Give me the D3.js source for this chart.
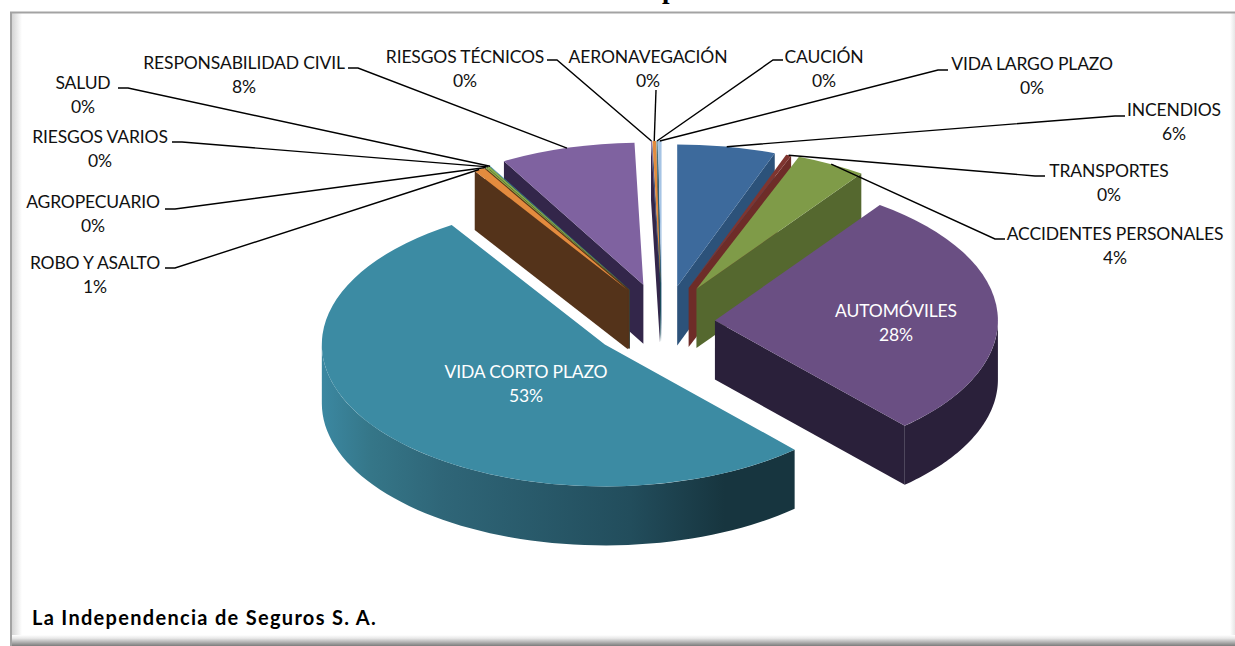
<!DOCTYPE html>
<html>
<head>
<meta charset="utf-8">
<script src="https://cdn.jsdelivr.net/npm/d3@7"></script>
<style>
  html, body { margin: 0; padding: 0; background: #fff; overflow: hidden; }
  text { font-family: Lato, "Open Sans", sans-serif; }
</style>
</head>
<body>
<div id="chart"></div>
<script>
// Data (percent of the total)
var categories = ["INCENDIOS", "TRANSPORTES", "ACCIDENTES PERSONALES", "AUTOMÓVILES", "VIDA CORTO PLAZO",
  "ROBO Y ASALTO", "AGROPECUARIO", "RIESGOS VARIOS", "SALUD", "RESPONSABILIDAD CIVIL",
  "RIESGOS TÉCNICOS", "AERONAVEGACIÓN", "CAUCIÓN", "VIDA LARGO PLAZO"];
var values = [5.6, 0.3, 4, 28.4, 52.6, 0.6, 0.1, 0.15, 0.05, 7.7, 0.05, 0.2, 0.05, 0.2];
var percentLabels = ["6%", "0%", "4%", "28%", "53%", "1%", "0%", "0%", "0%", "8%", "0%", "0%", "0%", "0%"];

var footer = "La Independencia de Seguros S. A.";

// Per slice styling and layout
var topColors = ["#3D6A9C", "#7F3530", "#7F9B48", "#6A4F83", "#3C8BA3", "#E38B3E", "#8AB04A", "#8AB04A",
  "#3C8BA3", "#7F62A0", "#7F62A0", "#E38B3E", "#1C4E5C", "#A6C4E4"];
var sideColors = ["#2C527A", "#6E2C28", "#55682F", "#2A203A", "#17353F", "#54331A", "#54331A", "#54331A",
  "#1C4E5C", "#33264A", "#33264A", "#1C4E5C", "#1C4E5C", "#5F7F9F"];
var explode = [64, 64, 66, 53, 72, 65, 65, 65, 65, 69, 70, 70, 70, 70];
// small extra shift of the exploded slices
var nudgeX = [4, 4, 3, 0, 0, 0, 0, 0, 0, 0, 0, 0, 0, 0];
var nudgeY = [0, 0, 0, 4, 4.5, 0, 0, 0, 0, 0, 0, 0, 0, 0];

// label position: x centre, first baseline, leader start side, y of the stub
var labelX = [1174, 1109, 1115, 896, 526, 95, 93, 100, 83, 244, 465, 648, 824, 1032];
var labelY = [116, 177, 240, 317, 378, 269, 208, 143, 89, 69, 63, 63, 63, 70];
var leaderFrom = [[1125, 116], [1045, 176], [1005, 239], null, null, [165, 268], [165, 209], [172, 142],
  [118, 88], [348, 68], [547, 60], [656, 90], [783, 60], [948, 70]];
var stubDir = [-1, -1, -1, 0, 0, 1, 1, 1, 1, 1, 1, 0, -1, -1];

var svgWidth = 1235;
var svgHeight = 646;
var center = { x: 662, y: 318 };
var rx = 283;
var ry = 142;
var depth = 59;
var fontSize = 17.5;

var svg = d3.select("#chart")
  .append("svg")
  .attr("width", svgWidth)
  .attr("height", svgHeight)
  .style("display", "block");

var defs = svg.append("defs");

function addGradient(id, x1, y1, x2, y2, stops) {
  var g = defs.append("linearGradient")
    .attr("id", id)
    .attr("gradientUnits", "userSpaceOnUse")
    .attr("x1", x1).attr("y1", y1).attr("x2", x2).attr("y2", y2);
  stops.forEach(function(s) {
    g.append("stop").attr("offset", s[0]).attr("stop-color", s[1]);
  });
}

addGradient("wallTeal", 324, 0, 795, 0, [[0, "#3B87A0"], [0.1, "#357688"], [0.25, "#2F6678"], [0.65, "#224D5C"], [0.85, "#17353F"], [1, "#17353F"]]);
addGradient("leftShade", 12, 0, 22, 0, [[0, "#D4D4D4"], [1, "#FFFFFF"]]);
addGradient("bottomShade", 0, 635, 0, 646, [[0, "#FFFFFF"], [0.3, "#E8E8E8"], [1, "#7C7C7C"]]);
addGradient("rightShade", 1230, 0, 1235, 0, [[0, "#FFFFFF"], [1, "#E6E6E6"]]);

// Frame
svg.append("rect").attr("x", 12).attr("y", 13).attr("width", 10).attr("height", 625).attr("fill", "url(#leftShade)");
svg.append("rect").attr("x", 1230).attr("y", 13).attr("width", 5).attr("height", 625).attr("fill", "url(#rightShade)");
svg.append("rect").attr("x", 10).attr("y", 635).attr("width", 1225).attr("height", 11).attr("fill", "url(#bottomShade)");
svg.append("path")
  .attr("d", "M11,646V12.5H1235")
  .attr("fill", "none")
  .attr("stroke", "#A3A3A3")
  .attr("stroke-width", 2);

// What is left of the title above the crop
svg.append("text")
  .attr("x", 662)
  .attr("y", -2)
  .style("font-family", "'Liberation Serif', serif")
  .style("font-weight", "bold")
  .style("font-size", "27px")
  .text("p");

// Pie layout, clockwise from 12 o'clock
var pie = d3.pie().sort(null).value(function(d) { return d; });
var arcs = pie(values);

var topArc = d3.arc().innerRadius(0).outerRadius(rx);

var slices = arcs.map(function(a, i) {
  var mid = (a.startAngle + a.endAngle) / 2;
  return {
    i: i,
    start: a.startAngle,
    end: a.endAngle,
    mid: mid,
    arc: a,
    x: center.x + explode[i] * Math.sin(mid) + nudgeX[i],
    y: center.y - explode[i] * 0.5 * Math.cos(mid) + nudgeY[i]
  };
});

function rim(s, angle, drop) {
  return [s.x + rx * Math.sin(angle), s.y - ry * Math.cos(angle) + (drop || 0)];
}

var line = d3.line();

// Walls of a slice which face the viewer
function drawSides(g, s) {
  var fill = s.i === 4 ? "url(#wallTeal)" : sideColors[s.i];
  var apex = [s.x, s.y];
  var apexLow = [s.x, s.y + depth];

  if (Math.sin(s.start) < 0) {
    g.append("path")
      .attr("d", line([apex, rim(s, s.start), rim(s, s.start, depth), apexLow]) + "Z")
      .attr("fill", sideColors[s.i]);
  }
  if (Math.sin(s.end) > 0) {
    g.append("path")
      .attr("d", line([apex, rim(s, s.end), rim(s, s.end, depth), apexLow]) + "Z")
      .attr("fill", sideColors[s.i]);
  }

  var from = Math.max(s.start, Math.PI / 2);
  var to = Math.min(s.end, Math.PI * 1.5);
  if (to > from) {
    var angles = d3.range(0, 61).map(function(k) { return from + (to - from) * k / 60; });
    var upper = angles.map(function(a) { return rim(s, a); });
    var lower = angles.slice().reverse().map(function(a) { return rim(s, a, depth); });
    g.append("path")
      .attr("d", line(upper.concat(lower)) + "Z")
      .attr("fill", fill);
  }
}

// Back slices first
var order = slices.slice().sort(function(a, b) { return Math.cos(b.mid) - Math.cos(a.mid); });

var pieGroup = svg.append("g");
order.forEach(function(s) {
  var g = pieGroup.append("g");
  drawSides(g, s);
  g.append("path")
    .attr("transform", "translate(" + s.x + "," + s.y + ") scale(1," + (ry / rx) + ")")
    .attr("d", topArc(s.arc))
    .attr("fill", topColors[s.i]);
});

// Leader lines go to the rim at the middle of the slice
var leaders = svg.append("g");
slices.forEach(function(s) {
  var from = leaderFrom[s.i];
  if (!from) return;
  var target = rim(s, s.mid);
  var pts = stubDir[s.i] === 0
    ? [from, target]
    : [from, [from[0] + stubDir[s.i] * 10, from[1]], target];
  leaders.append("path")
    .attr("d", line(pts))
    .attr("fill", "none")
    .attr("stroke", "#000")
    .attr("stroke-width", 1.4);
});

// Labels
var labels = svg.append("g");
slices.forEach(function(s) {
  var inside = leaderFrom[s.i] === null;
  var t = labels.append("text")
    .attr("text-anchor", "middle")
    .attr("fill", inside ? "#fff" : "#111")
    .style("font-size", fontSize + "px")
    .style("letter-spacing", "-0.15px");
  t.append("tspan")
    .attr("x", labelX[s.i])
    .attr("y", labelY[s.i])
    .text(categories[s.i]);
  t.append("tspan")
    .attr("x", labelX[s.i])
    .attr("y", labelY[s.i] + 24)
    .text(percentLabels[s.i]);
});

svg.append("text")
  .attr("x", 32)
  .attr("y", 625)
  .attr("fill", "#000")
  .style("font-size", "20px")
  .style("font-weight", "bold")
  .style("letter-spacing", "1.3px")
  .text(footer);
</script>
</body>
</html>
